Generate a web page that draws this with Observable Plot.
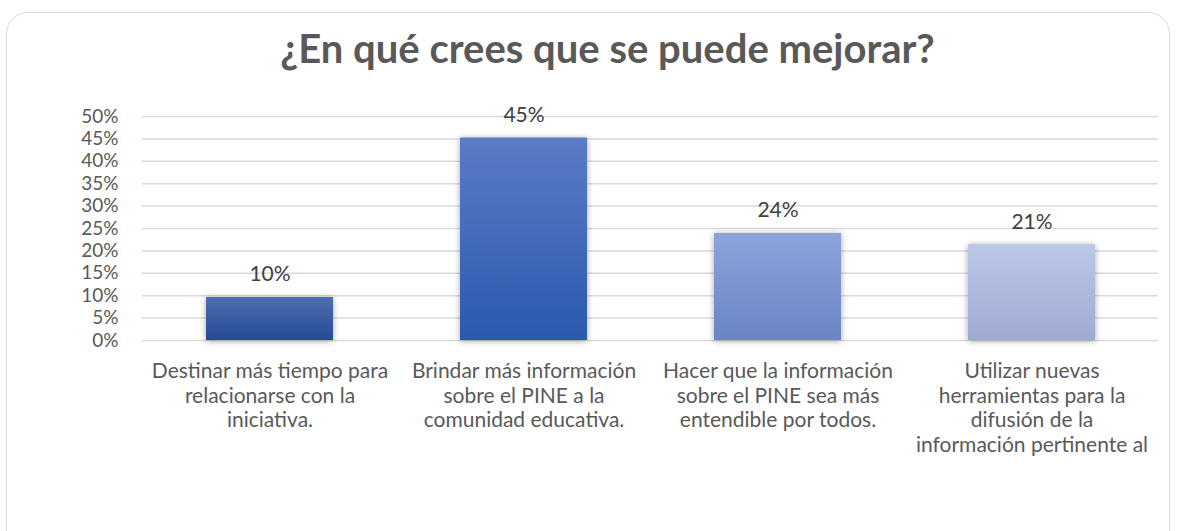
<!DOCTYPE html>
<html>
<head>
<meta charset="utf-8">
<script src="https://cdn.jsdelivr.net/npm/d3@7"></script>
<script src="https://cdn.jsdelivr.net/npm/@observablehq/plot@0.6"></script>
<style>
  html, body { margin: 0; padding: 0; background: #fff; }
  body { width: 1177px; height: 531px; position: relative; overflow: hidden; font-family: Lato, "Open Sans", sans-serif; }
  #card { position: absolute; left: 6px; top: 12px; width: 1164px; height: 560px; border: 1.5px solid #d9d9d9; border-radius: 22px; box-sizing: border-box; }
  #title { position: absolute; left: 38px; top: 0; width: 1139px; height: 100px; text-align: center; font-weight: 700; font-size: 40px; color: #595959; line-height: 96px; }
  #chart { position: absolute; left: 0; top: 100px; }
</style>
</head>
<body>
<div id="card"></div>
<div id="title">¿En qué crees que se puede mejorar?</div>
<div id="chart"></div>
<script>
const categories = [
  "Destinar más tiempo para\nrelacionarse con la\niniciativa.",
  "Brindar más información\nsobre el PINE a la\ncomunidad educativa.",
  "Hacer que la información\nsobre el PINE sea más\nentendible por todos.",
  "Utilizar nuevas\nherramientas para la\ndifusión de la\ninformación pertinente al"
];
const values = [0.096, 0.452, 0.239, 0.214];
const valueLabels = ["10%", "45%", "24%", "21%"];
const yTicks = [0, 0.05, 0.1, 0.15, 0.2, 0.25, 0.3, 0.35, 0.4, 0.45, 0.5];

const gradients = [
  ["#4e6fb0", "#244b94"],
  ["#5b7cc6", "#2b59ad"],
  ["#8ea3da", "#6a84c5"],
  ["#bcc8e7", "#9eaad2"]
];

const data = categories.map((c, i) => ({ cat: c, value: values[i], label: valueLabels[i], fill: `url(#grad${i})` }));

const chart = Plot.plot({
  width: 1177,
  height: 431,
  marginTop: 16,
  marginBottom: 191,
  marginLeft: 142,
  marginRight: 19,
  style: { fontFamily: "Lato, 'Open Sans', sans-serif", fontSize: "21px", color: "#595959", background: "transparent" },
  x: { domain: categories, paddingInner: 0.5, paddingOuter: 0.25, label: null },
  y: { domain: [0, 0.5], label: null },
  color: { type: "identity" },
  marks: [
    Plot.gridY(yTicks, { stroke: "#d9d9d9", strokeOpacity: 1, strokeWidth: 1.5 }),
    Plot.axisY(yTicks, { tickSize: 0, tickPadding: 24, tickFormat: d3.format(".0%"), fontSize: 19, fill: "#595959" }),
    Plot.axisX({ tickSize: 0, tickPadding: 20, fontSize: 21, lineHeight: 1.17, fill: "#595959", textOverflow: null }),
    Plot.barY(data, { x: "cat", y: "value", fill: "fill" }),
    Plot.text(data, { x: "cat", y: "value", text: "label", dy: -16, lineAnchor: "bottom", fontSize: 21, fill: "#404040" })
  ]
});

const svg = d3.select(chart);
const defs = svg.insert("defs", ":first-child");
gradients.forEach((g, i) => {
  const lg = defs.append("linearGradient").attr("id", `grad${i}`).attr("x1", 0).attr("y1", 0).attr("x2", 0).attr("y2", 1);
  lg.append("stop").attr("offset", "0%").attr("stop-color", g[0]);
  lg.append("stop").attr("offset", "100%").attr("stop-color", g[1]);
});
svg.selectAll("g[aria-label='bar'] rect").style("filter", "drop-shadow(0px 1px 3px rgba(0,0,0,0.35))");

document.getElementById("chart").appendChild(chart);
</script>
</body>
</html>
